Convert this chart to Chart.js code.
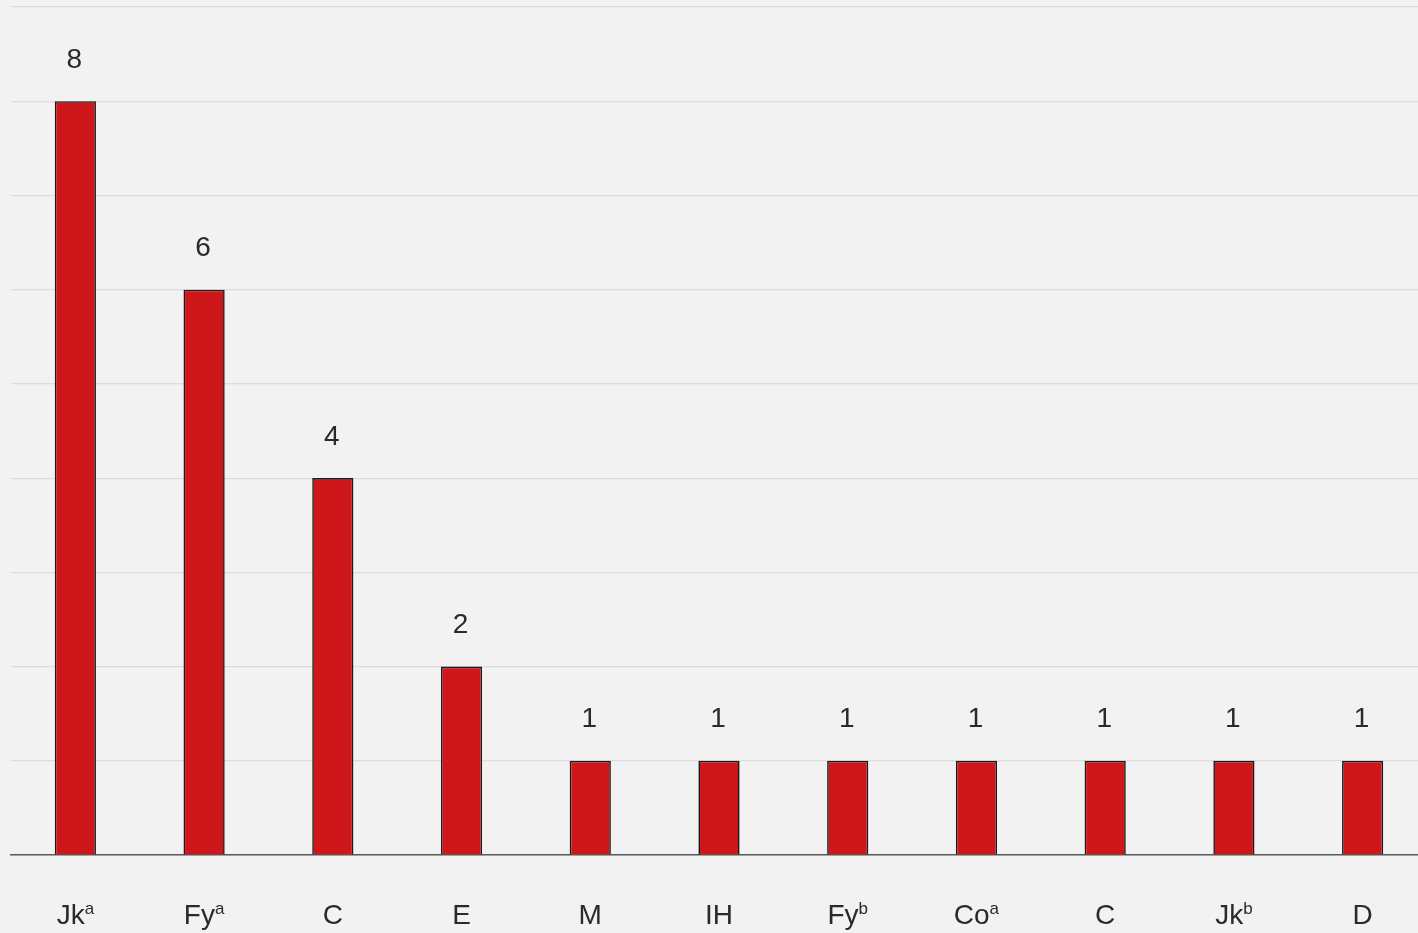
<!DOCTYPE html>
<html>
<head>
<meta charset="utf-8">
<script src="https://cdn.jsdelivr.net/npm/chart.js@4"></script>
<style>
  html, body { margin: 0; padding: 0; background: #f2f2f2; overflow: hidden; }
  #wrap { width: 1430px; height: 933px; }
</style>
</head>
<body>
<div id="wrap"><canvas id="chart"></canvas></div>
<script>
// antigen names and their superscript letter
const antigens = ['Jk', 'Fy', 'C', 'E', 'M', 'IH', 'Fy', 'Co', 'C', 'Jk', 'D'];
const sups = ['a', 'a', '', '', '', '', 'b', 'a', '', 'b', ''];
const counts = [8, 6, 4, 2, 1, 1, 1, 1, 1, 1, 1];
const yTicks = [0, 1, 2, 3, 4, 5, 6, 7, 8, 9];

const FONT = '"Liberation Sans", Arial, sans-serif';
const TEXT = '#2a2a2a';

// draws value labels above bars and the antigen names with superscripts
const labelPlugin = {
    id: 'labels',
    afterDraw(chart) {
        const ctx = chart.ctx;
        const x = chart.scales.x;
        const y = chart.scales.y;
        ctx.save();
        ctx.fillStyle = TEXT;
        ctx.textBaseline = 'middle';
        ctx.textAlign = 'center';
        ctx.font = '28px ' + FONT;
        counts.forEach((v, i) => {
            ctx.fillText(String(v), x.getPixelForValue(i) - 1, y.getPixelForValue(v) - 41);
        });
        antigens.forEach((name, i) => {
            const cx = x.getPixelForValue(i);
            ctx.font = '28px ' + FONT;
            const w1 = ctx.measureText(name).width;
            ctx.font = '17px ' + FONT;
            const w2 = sups[i] ? ctx.measureText(sups[i]).width : 0;
            const start = cx - (w1 + w2) / 2;
            ctx.textAlign = 'left';
            ctx.textBaseline = 'alphabetic';
            ctx.font = '28px ' + FONT;
            ctx.fillText(name, start, 924);
            if (sups[i]) {
                ctx.font = '17px ' + FONT;
                ctx.fillText(sups[i], start + w1, 914);
            }
        });
        ctx.restore();
    }
};

new Chart(document.getElementById('chart').getContext('2d'), {
    type: 'bar',
    data: {
        labels: antigens.map((a, i) => a + sups[i]),
        datasets: [{
            data: counts,
            backgroundColor: '#cd171a',
            borderColor: '#1a1a1a',
            borderWidth: 1.6,
            barPercentage: 0.32,
            categoryPercentage: 1
        }]
    },
    options: {
        responsive: true,
        maintainAspectRatio: false,
        animation: false,
        layout: { padding: { left: 11, right: 3, top: 7, bottom: 78 } },
        plugins: { legend: { display: false }, tooltip: { enabled: false } },
        scales: {
            x: {
                ticks: { display: false },
                grid: { color: 'transparent', drawTicks: false },
                border: { display: true, color: '#5a5a5a', width: 1.6 }
            },
            y: {
                min: yTicks[0],
                max: yTicks[yTicks.length - 1],
                afterBuildTicks: axis => { axis.ticks = yTicks.map(v => ({ value: v })); },
                ticks: { display: false },
                grid: { color: '#dcdcdc', lineWidth: 1.2, drawTicks: false },
                border: { display: false }
            }
        }
    },
    plugins: [labelPlugin]
});
</script>
</body>
</html>
